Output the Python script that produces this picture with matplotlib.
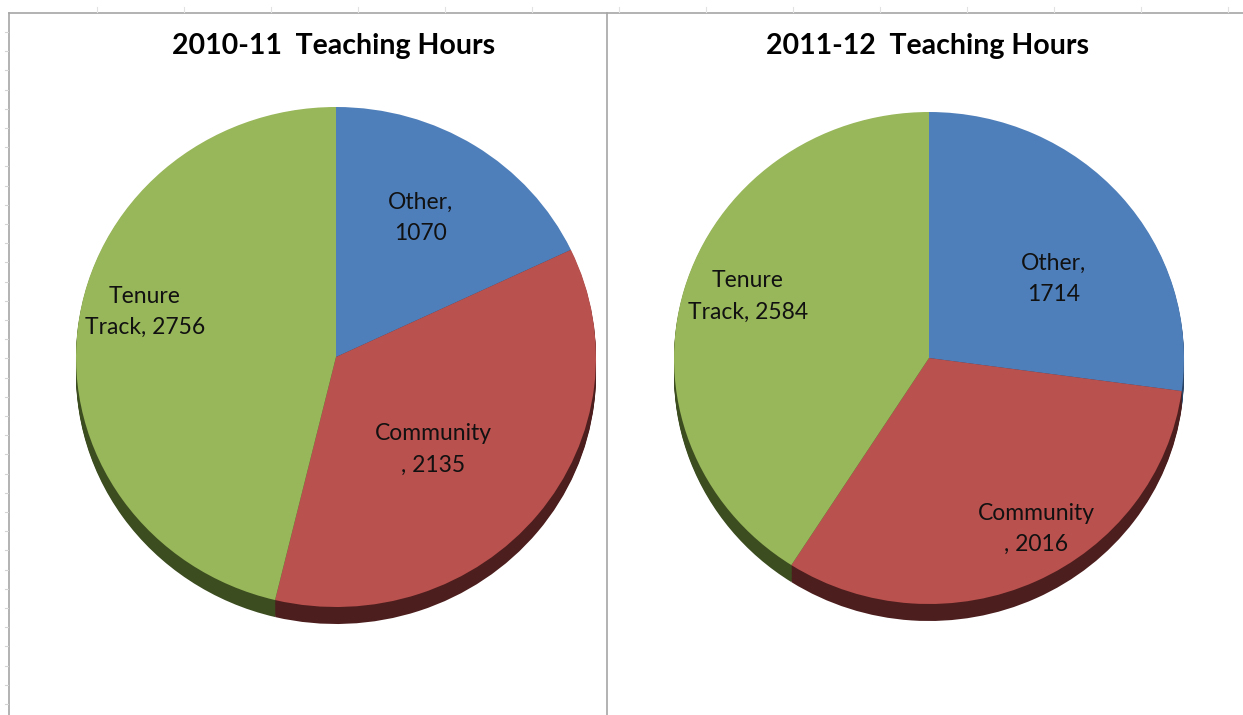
import matplotlib
matplotlib.use("Agg")
import matplotlib.pyplot as plt
import numpy as np

# ---- data ----
categories = ["Other", "Community", "Tenure Track"]
hours_2010 = [1070, 2135, 2756]
hours_2011 = [1714, 2016, 2584]
titles = ["2010-11  Teaching Hours", "2011-12  Teaching Hours"]
label_texts_2010 = ["Other,\n1070", "Community\n, 2135", "Tenure\nTrack, 2756"]
label_texts_2011 = ["Other,\n1714", "Community\n, 2016", "Tenure\nTrack, 2584"]

# ---- style ----
top_colors = ["#4f7fba", "#b9514e", "#98b65a"]
side_colors = ["#2a4466", "#4d1e1e", "#3c4d20"]
W, H = 1243, 715
FONT = "Lato"

fig = plt.figure(figsize=(W / 100, H / 100), dpi=100)
fig.patch.set_facecolor("white")

# frame / worksheet lines
bg = fig.add_axes([0, 0, 1, 1])
bg.set_xlim(0, W)
bg.set_ylim(H, 0)
bg.axis("off")
line_c = "#a6a6a6"
bg.plot([9, 9], [13, H], color=line_c, lw=1.2)
bg.plot([9, W], [13, 13], color=line_c, lw=1.2)
bg.plot([607, 607], [13, H], color=line_c, lw=1.2)
for x in np.arange(97, W, 87):
    if abs(x - 607) > 5:
        bg.plot([x, x], [7, 12], color="#e2e2e2", lw=0.8)
for y in np.arange(32, H, 19.2):
    bg.plot([5, 8], [y, y], color="#d4d4d4", lw=0.8)


def draw_pie(values, labels, title, cx, cy, rx, ry, depth, label_pos, title_xy):
    pad = 1.25
    ax = fig.add_axes([(cx - pad * rx) / W, (H - cy - pad * ry) / H,
                       2 * pad * rx / W, 2 * pad * ry / H])
    # extruded side
    n = 14
    d = depth / ry
    for k in range(n, 0, -1):
        ax.pie(values, colors=side_colors, startangle=90, counterclock=False,
               radius=1.0, center=(0, -d * k / n),
               wedgeprops=dict(linewidth=0, antialiased=True))
    wedges, texts = ax.pie(values, colors=top_colors, startangle=90,
                           counterclock=False, radius=1.0, center=(0, 0),
                           labels=labels, labeldistance=0.6,
                           wedgeprops=dict(linewidth=0),
                           textprops=dict(fontsize=16.5, family=FONT,
                                          color="#111111", ha="center",
                                          va="center", linespacing=1.6))
    for t, (px, py) in zip(texts, label_pos):
        t.set_position((px, py))
        t.set_ha("center")
        t.set_va("center")
    ax.set_aspect("auto")
    ax.set_xlim(-pad, pad)
    ax.set_ylim(-pad, pad)
    ax.axis("off")
    bg.text(title_xy[0], title_xy[1], title, fontsize=20.5, fontweight="bold",
            family=FONT, ha="center", va="center", color="black")


draw_pie(hours_2010, label_texts_2010, titles[0], 336, 357, 260, 250, 17,
         [(0.325, 0.555), (0.375, -0.37), (-0.735, 0.18)], (334, 46))
draw_pie(hours_2011, label_texts_2011, titles[1], 929, 358, 255, 246, 17,
         [(0.49, 0.32), (0.42, -0.695), (-0.71, 0.25)], (928, 46))

fig.savefig("out.png", dpi=100)
